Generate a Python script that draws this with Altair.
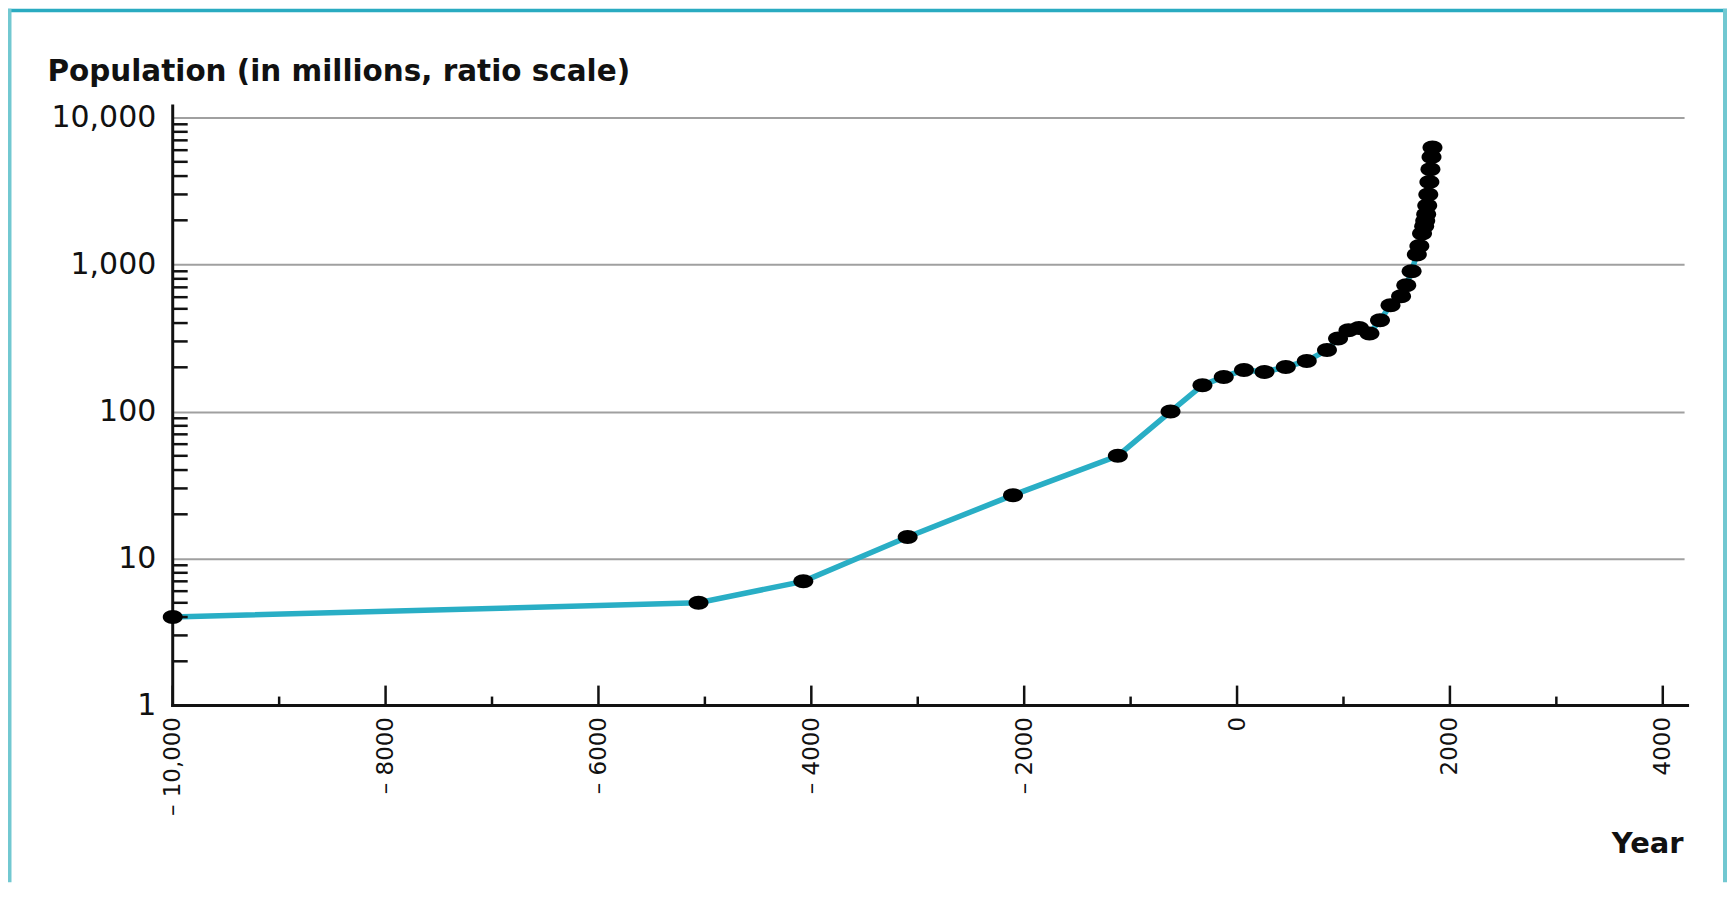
import altair as alt
import pandas as pd

# ---- data (year, population in millions) ----
years = [-10000, -5060, -4075, -3095, -2105, -1120, -625, -325, -125, 65,
         258, 458, 655, 845, 949, 1047, 1146, 1244, 1343, 1442,
         1541, 1590, 1640, 1689, 1713, 1738, 1758, 1768, 1777, 1787,
         1797, 1807, 1817, 1827, 1836]
population = [4, 5, 7, 14, 27, 50, 100, 151, 172, 192,
              186, 201, 221, 262, 314, 357, 370, 340, 418, 529,
              609, 723, 900, 1170, 1340, 1630, 1820, 1990, 2200, 2520,
              3000, 3650, 4450, 5400, 6250]

# ---- axis ticks / labels ----
x_major = [-10000, -8000, -6000, -4000, -2000, 0, 2000, 4000]
x_major_labels = ["\u2013 10,000", "\u2013 8000", "\u2013 6000", "\u2013 4000",
                  "\u2013 2000", "0", "2000", "4000"]
x_minor = [-9000, -7000, -5000, -3000, -1000, 1000, 3000]
y_major = [1, 10, 100, 1000, 10000]
y_minor = [2, 3, 4, 5, 6, 7, 8, 9,
           20, 30, 40, 50, 60, 70, 80, 90,
           200, 300, 400, 500, 600, 700, 800, 900,
           2000, 3000, 4000, 5000, 6000, 7000, 8000, 9000]

df = pd.DataFrame({"year": years, "population": population})
df_xmaj = pd.DataFrame({"year": x_major})
df_xmin = pd.DataFrame({"year": x_minor})
df_ymin = pd.DataFrame({"population": y_minor})
one = pd.DataFrame({"k": [0]})

W, H = 1514, 589
INK = "#111111"
FONT = "DejaVu Sans"

xs = alt.Scale(domain=[-10000, 4200], nice=False, zero=False)
ys = alt.Scale(type="log", domain=[1, 10000], nice=False)

label_expr = ""
for v, t in zip(x_major, x_major_labels):
    label_expr += f"datum.value == {v} ? '{t}' : "
label_expr += "''"

x_axis = alt.Axis(
    values=x_major, labelExpr=label_expr, labelAngle=270, labelAlign="right",
    labelBaseline="middle", labelPadding=11, ticks=False, domain=False, grid=False,
    labelFont=FONT, labelFontSize=23, labelColor=INK, labelFlush=False,
    labelOverlap=False, title="Year", titleFont=FONT, titleFontSize=29,
    titleFontWeight="bold", titleColor=INK, titleAlign="right",
    titleBaseline="alphabetic", titleAngle=0, titleX=W - 1, titleY=147,
)
y_axis = alt.Axis(
    values=y_major, format=",", ticks=False, domain=False, grid=True,
    gridColor="#a0a0a0", gridWidth=2, labelPadding=17, labelFont=FONT,
    labelFontSize=30, labelColor=INK, labelFlush=False, labelOverlap=False,
    title="Population (in millions, ratio scale)", titleAngle=0,
    titleAlign="left", titleBaseline="alphabetic", titleX=-126, titleY=-37,
    titleFont=FONT, titleFontWeight="bold", titleFontSize=29.5, titleColor=INK,
)

X = alt.X("year:Q", scale=xs, axis=x_axis)
Y = alt.Y("population:Q", scale=ys, axis=y_axis)

line = alt.Chart(df).mark_line(color="#29aec5", strokeWidth=5.5).encode(x=X, y=Y)

ELLIPSE = "M -1 0 A 1 0.7 0 1 1 1 0 A 1 0.7 0 1 1 -1 0 Z"
points = alt.Chart(df).mark_point(
    shape=ELLIPSE, filled=True, size=400, color="#000000", opacity=1, strokeWidth=0
).encode(x=X, y=Y)

xmaj_ticks = alt.Chart(df_xmaj).mark_rule(color=INK, strokeWidth=2.5).encode(
    x=X, y=alt.value(H), y2=alt.value(H - 20)
)
xmin_ticks = alt.Chart(df_xmin).mark_rule(color=INK, strokeWidth=2.5).encode(
    x=X, y=alt.value(H), y2=alt.value(H - 9)
)
ymin_ticks = alt.Chart(df_ymin).mark_rule(color=INK, strokeWidth=2.5).encode(
    y=Y, x=alt.value(0), x2=alt.value(15)
)

y_line = alt.Chart(one).mark_rule(color=INK, strokeWidth=3).encode(
    x=alt.value(0), y=alt.value(-13), y2=alt.value(H + 1.5)
)
x_line = alt.Chart(one).mark_rule(color=INK, strokeWidth=3).encode(
    y=alt.value(H), x=alt.value(-1.5), x2=alt.value(W + 5)
)

# frame
frame_top = alt.Chart(one).mark_rule(color="#2aabc1", strokeWidth=3.5).encode(
    y=alt.value(-107.25), x=alt.value(-165), x2=alt.value(1557)
)
frame_left = alt.Chart(one).mark_rule(color="#72c8d1", strokeWidth=3.5).encode(
    x=alt.value(-163.25), y=alt.value(-109), y2=alt.value(H + 177)
)
frame_right = alt.Chart(one).mark_rule(color="#72c8d1", strokeWidth=4).encode(
    x=alt.value(1555), y=alt.value(-109), y2=alt.value(H + 177)
)

chart = alt.layer(
    line, xmaj_ticks, xmin_ticks, ymin_ticks, y_line, x_line, points,
    frame_top, frame_left, frame_right,
).properties(
    width=W, height=H,
    padding={"left": 165, "top": 109, "right": 43, "bottom": 177},
    autosize=alt.AutoSizeParams(type="none"),
    background="white",
).configure_view(strokeWidth=0)

chart.save("out.html", embed_options={"renderer": "svg", "actions": False})
